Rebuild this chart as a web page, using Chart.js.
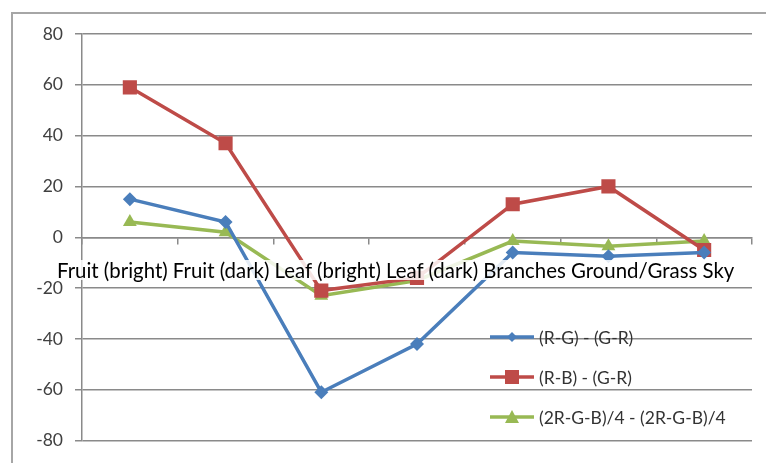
<!DOCTYPE html>
<html>
<head>
<meta charset="utf-8">
<script src="https://cdn.jsdelivr.net/npm/chart.js@4.4.1/dist/chart.umd.min.js"></script>
<style>
  body { margin: 0; background: #fff; }
  #wrap { position: relative; width: 766px; height: 463px; overflow: hidden; }
  #frame { position: absolute; left: 11px; top: 12px; width: 800px; height: 500px; border: 2px solid #a6a6a6; box-sizing: border-box; }
  #chart { position: absolute; left: 0; top: 0; }
  #xlabels { position: absolute; left: 57px; top: 260px; line-height: 20px; white-space: nowrap; font-family: Lato, sans-serif; font-size: 17px; color: #000; background: rgba(255,255,255,0.85); }
  .leg { position: absolute; left: 490px; height: 20px; display: flex; align-items: center; font-family: Lato, sans-serif; font-size: 17.5px; color: #333; white-space: nowrap; }
  .leg svg { margin-right: 3px; }
</style>
</head>
<body>
<div id="wrap">
  <div id="frame"></div>
  <canvas id="chart" width="766" height="463"></canvas>
  <div id="xlabels"></div>
  <div id="legend"></div>
</div>
<script>
// categories and series
var categories = ["Fruit (bright)", "Fruit (dark)", "Leaf (bright)", "Leaf (dark)", "Branches", "Ground/Grass", "Sky"];
var seriesNames = ["(R-G) - (G-R)", "(R-B) - (G-R)", "(2R-G-B)/4 - (2R-G-B)/4"];
var rgValues = [15, 6, -61, -42, -6, -7.5, -6];
var rbValues = [59, 37, -21, -16, 13, 20, -5];
var rgbValues = [6, 2, -23, -17, -1.5, -3.5, -1.5];
var yTicks = [-80, -60, -40, -20, 0, 20, 40, 60, 80];

var colors = ["#4A7EBB", "#BE4B48", "#98B954"];
var styles = ["rectRot", "rect", "triangle"];
var radii = [7, 10, 8];
var values = [rgValues, rbValues, rgbValues];

var gridColor = "#8a8a8a";

var datasets = values.map(function (v, i) {
  return {
    label: seriesNames[i],
    data: v,
    borderColor: colors[i],
    backgroundColor: colors[i],
    borderWidth: 3.5,
    pointStyle: styles[i],
    pointRadius: radii[i],
    pointBorderWidth: 0,
    tension: 0
  };
});

var ctx = document.getElementById("chart").getContext("2d");
var chart = new Chart(ctx, {
  type: "line",
  data: { labels: categories, datasets: datasets },
  options: {
    responsive: false,
    animation: false,
    layout: { padding: { left: 0, right: 14, top: 34, bottom: 18 } },
    plugins: { legend: { display: false }, tooltip: { enabled: false } },
    scales: {
      x: {
        position: { y: 0 },
        offset: true,
        afterFit: function (s) { s.height = 0; },
        ticks: { display: false },
        grid: { drawOnChartArea: false, drawTicks: true, tickLength: 6, offset: true, color: gridColor, lineWidth: 1.5 },
        border: { display: true, color: gridColor, width: 1.5 }
      },
      y: {
        min: yTicks[0],
        max: yTicks[yTicks.length - 1],
        afterFit: function (s) { s.width = 82; },
        afterBuildTicks: function (s) { s.ticks = yTicks.map(function (t) { return { value: t }; }); },
        ticks: { padding: 12, color: "#404040", font: { family: "Lato", size: 17.5 } },
        grid: { color: gridColor, lineWidth: 1.5, tickLength: 7 },
        border: { color: gridColor, width: 1.5 }
      }
    }
  }
});

// category labels sit in one run under the zero line
var xl = document.getElementById("xlabels");
xl.textContent = categories.join(" ");
var targetW = 678;
var w = xl.offsetWidth;
xl.style.fontSize = (17 * targetW / w).toFixed(2) + "px";

// legend inside plot area
function marker(i) {
  var c = colors[i];
  var m = "";
  if (i === 0) m = '<polygon points="22,3 27,8 22,13 17,8" fill="' + c + '"/>';
  if (i === 1) m = '<rect x="15" y="1" width="14" height="14" fill="' + c + '"/>';
  if (i === 2) m = '<polygon points="22,1 29,14 15,14" fill="' + c + '"/>';
  return '<svg width="46" height="16"><line x1="0" y1="8" x2="44" y2="8" stroke="' + c + '" stroke-width="3.5"/>' + m + '</svg>';
}
var legendTops = [327, 367, 407];
var lg = document.getElementById("legend");
seriesNames.forEach(function (n, i) {
  var d = document.createElement("div");
  d.className = "leg";
  d.style.top = legendTops[i] + "px";
  d.innerHTML = marker(i) + "<span>" + n + "</span>";
  lg.appendChild(d);
});
</script>
</body>
</html>
